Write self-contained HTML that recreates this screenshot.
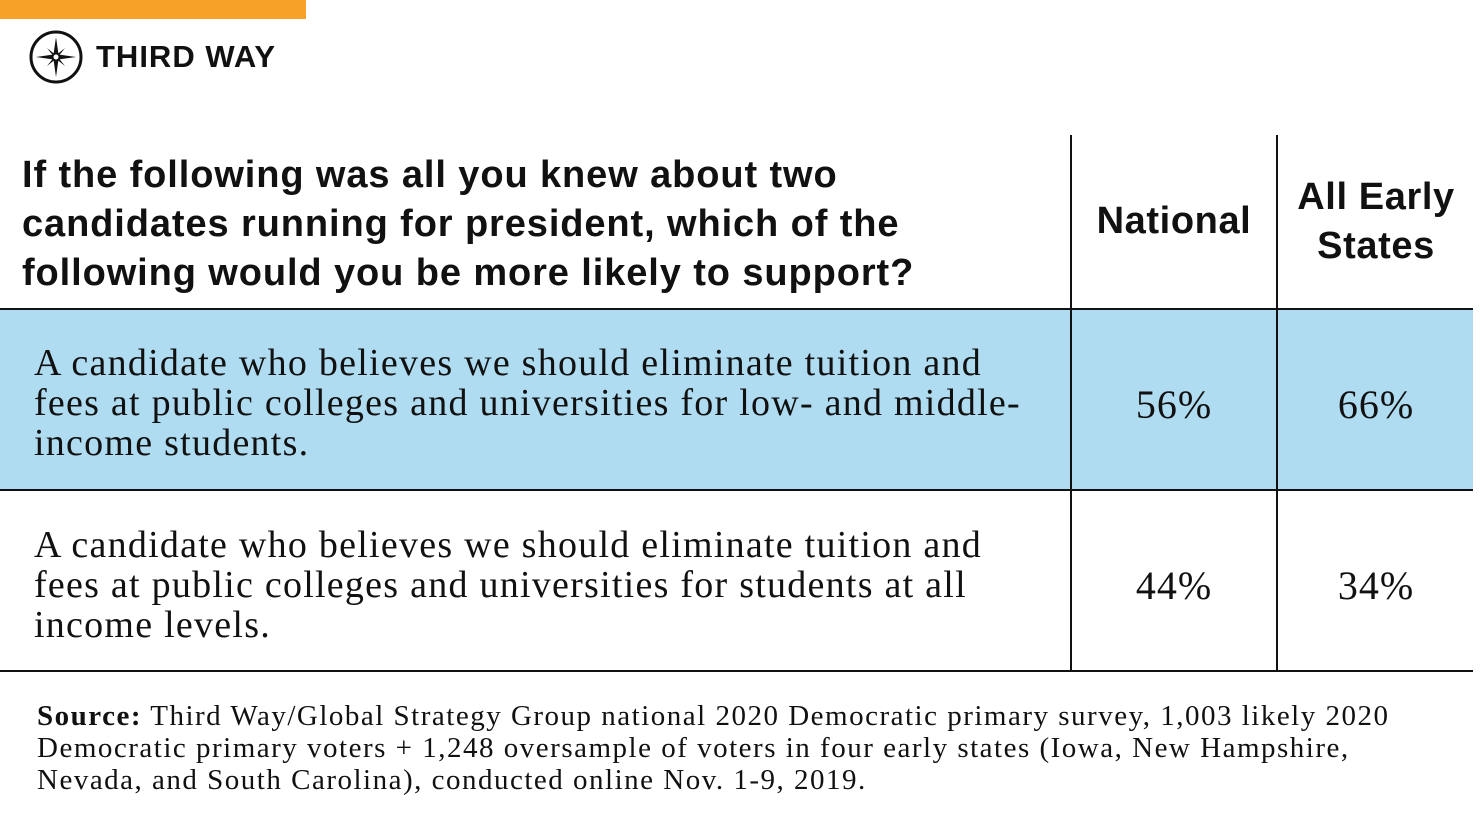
<!DOCTYPE html>
<html><head><meta charset="utf-8"><style>
body{margin:0;width:1480px;height:829px;background:#fff;position:relative;overflow:hidden;font-family:"Liberation Serif",serif;color:#111}
div{position:absolute;white-space:nowrap}
.hd{font-family:"Liberation Sans",sans-serif;font-weight:bold;font-size:38px;line-height:49px;letter-spacing:0.9px}
.body{font-size:38px;line-height:40px;left:34px;letter-spacing:1.25px}
.pct{font-size:40px;text-align:center;line-height:40px;letter-spacing:1px}
.hl{background:#111}
</style></head><body>
<div style="left:0;top:0;width:306px;height:19px;background:#f7a128"></div>
<svg style="position:absolute;left:28px;top:29px" width="56" height="56" viewBox="0 0 56 56">
<circle cx="28" cy="28" r="25" fill="none" stroke="#111" stroke-width="3"/>
<polygon points="28,8 30.5,25.5 48,28 30.5,30.5 28,48 25.5,30.5 8,28 25.5,25.5" fill="#111"/>
<polygon points="19,19 29,27 37,37 27,29" fill="#111"/>
<polygon points="37,19 29,29 19,37 27,27" fill="#111"/>
<circle cx="28" cy="28" r="2.5" fill="#fff"/>
</svg>
<div style="left:96px;top:39px;font-family:'Liberation Sans',sans-serif;font-weight:bold;font-size:31px;line-height:36px;letter-spacing:1px">THIRD WAY</div>

<div style="left:0;top:310px;width:1473px;height:180px;background:#afdcf1"></div>
<div class="hl" style="left:0;top:308px;width:1473px;height:2px"></div>
<div class="hl" style="left:0;top:489px;width:1473px;height:2px"></div>
<div class="hl" style="left:0;top:670px;width:1473px;height:2px"></div>
<div class="hl" style="left:1070px;top:135px;width:2px;height:537px"></div>
<div class="hl" style="left:1276px;top:135px;width:2px;height:537px"></div>

<div class="hd" style="left:22px;top:151px">If the following was all you knew about two<br>candidates running for president, which of the<br>following would you be more likely to support?</div>
<div class="hd" style="left:1072px;top:197px;width:204px;text-align:center;letter-spacing:0.6px">National</div>
<div class="hd" style="left:1278px;top:173px;width:196px;text-align:center;letter-spacing:0.6px">All Early<br>States</div>

<div class="body" style="top:343px">A candidate who believes we should eliminate tuition and<br>fees at public colleges and universities for low- and middle-<br>income students.</div>
<div class="pct" style="left:1072px;top:385px;width:204px">56%</div>
<div class="pct" style="left:1278px;top:385px;width:196px">66%</div>

<div class="body" style="top:525px">A candidate who believes we should eliminate tuition and<br>fees at public colleges and universities for students at all<br>income levels.</div>
<div class="pct" style="left:1072px;top:566px;width:204px">44%</div>
<div class="pct" style="left:1278px;top:566px;width:196px">34%</div>

<div style="left:37px;top:700px;font-size:29px;line-height:32px;letter-spacing:1.5px"><b>Source:</b> Third Way/Global Strategy Group national 2020 Democratic primary survey, 1,003 likely 2020<br>Democratic primary voters + 1,248 oversample of voters in four early states (Iowa, New Hampshire,<br>Nevada, and South Carolina), conducted online Nov. 1-9, 2019.</div>
</body></html>
